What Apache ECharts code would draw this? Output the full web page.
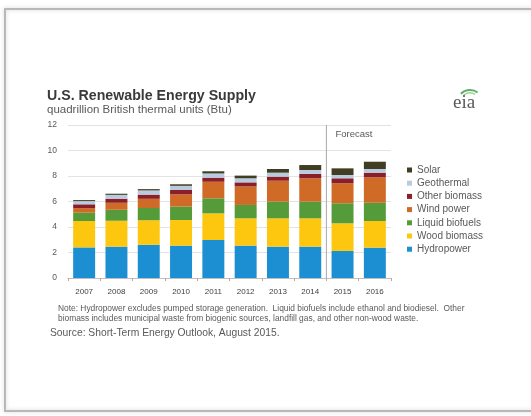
<!DOCTYPE html>
<html>
<head>
<meta charset="utf-8">
<script src="https://cdn.jsdelivr.net/npm/echarts@6/dist/echarts.min.js"></script>
<style>
html,body{margin:0;padding:0;background:#fff;}
#c{width:531px;height:416px;}
</style>
</head>
<body>
<div id="c"></div>
<script>
const years = ['2007','2008','2009','2010','2011','2012','2013','2014','2015','2016'];
const hydropower     = [2.40, 2.46, 2.61, 2.54, 2.98, 2.54, 2.46, 2.46, 2.12, 2.38];
const woodBiomass    = [2.07, 2.03, 1.92, 2.01, 2.09, 2.14, 2.22, 2.22, 2.17, 2.09];
const liquidBiofuels = [0.65, 0.86, 0.96, 1.05, 1.18, 1.05, 1.31, 1.31, 1.57, 1.43];
const windPower      = [0.36, 0.55, 0.72, 0.96, 1.30, 1.45, 1.64, 1.83, 1.57, 2.00];
const otherBiomass   = [0.30, 0.32, 0.33, 0.34, 0.32, 0.32, 0.32, 0.34, 0.39, 0.36];
const geothermal     = [0.25, 0.30, 0.33, 0.33, 0.33, 0.32, 0.31, 0.31, 0.26, 0.29];
const solar          = [0.08, 0.09, 0.10, 0.12, 0.17, 0.21, 0.29, 0.39, 0.52, 0.57];
const yTicks = { min: 0, max: 12, interval: 2 };
const legendOrder = ['Solar','Geothermal','Other biomass','Wind power','Liquid biofuels','Wood biomass','Hydropower'];

const FONT = '"Liberation Sans", Arial, sans-serif';
const chart = echarts.init(document.getElementById('c'), null, {renderer:'canvas'});

function bar(name, data, color){
  return { name, type:'bar', stack:'total', data, barCategoryGap:'32%',
    itemStyle:{ color }, emphasis:{disabled:true} };
}

chart.setOption({
  animation:false,
  backgroundColor:'#fff',
  textStyle:{ fontFamily: FONT },
  title:{
    text:'U.S. Renewable Energy Supply',
    subtext:'quadrillion British thermal units (Btu)',
    left:42, top:84, itemGap:1,
    textStyle:{ fontSize:14.2, fontWeight:'bold', color:'#3a3a3a', fontFamily:FONT },
    subtextStyle:{ fontSize:11.5, color:'#595959', fontFamily:FONT }
  },
  legend:{
    orient:'vertical', left:402, top:160,
    itemWidth:5, itemHeight:5, itemGap:3.2,
    icon:'rect',
    data: legendOrder,
    textStyle:{ fontSize:10, color:'#595959', lineHeight:10, fontFamily:FONT },
    selectedMode:false
  },
  grid:{ left:68, right:140, top:125, bottom:138 },
  xAxis:{
    type:'category', data:years,
    axisLine:{ lineStyle:{ color:'#bfbfbf' } },
    axisTick:{ show:true, length:3, lineStyle:{ color:'#c9a0a0' } },
    axisLabel:{ fontSize:8, color:'#404040', margin:10 }
  },
  yAxis:{
    type:'value', min:yTicks.min, max:yTicks.max, interval:yTicks.interval,
    axisLine:{ show:false }, axisTick:{ show:false },
    axisLabel:{ fontSize:8.5, color:'#595959', margin:11 },
    splitLine:{ lineStyle:{ color:'#e3e3e3' } }
  },
  series:[
    bar('Hydropower', hydropower, '#1B8FD2'),
    bar('Wood biomass', woodBiomass, '#FDC60F'),
    bar('Liquid biofuels', liquidBiofuels, '#559B3A'),
    bar('Wind power', windPower, '#CF6A27'),
    bar('Other biomass', otherBiomass, '#8A1F2A'),
    bar('Geothermal', geothermal, '#B9CCDF'),
    bar('Solar', solar, '#403D22')
  ]
});

// Forecast divider between 2014 and 2015, positioned through the axis scale
const p14 = chart.convertToPixel({gridIndex:0}, ['2014', 0]);
const p15 = chart.convertToPixel({gridIndex:0}, ['2015', 0]);
const pTop = chart.convertToPixel({gridIndex:0}, ['2015', yTicks.max]);
const xDiv = (p14[0] + p15[0]) / 2;

chart.setOption({
  graphic:[
    { type:'rect', shape:{ x:5, y:9, width:540, height:402 }, silent:true, z:-10,
      style:{ fill:'none', stroke:'#b8b8b8', lineWidth:2, shadowBlur:4, shadowColor:'rgba(0,0,0,0.18)' } },
    { type:'line', shape:{ x1:xDiv, y1:pTop[1], x2:xDiv, y2:p15[1] }, silent:true,
      style:{ stroke:'#a8a8a8', lineWidth:1 } },
    { type:'text', x:xDiv + 9, y:pTop[1] + 4, silent:true,
      style:{ text:'Forecast', fontSize:9.5, fill:'#595959', fontFamily:FONT } },
    { type:'text', x:58, y:304, silent:true,
      style:{ text:'Note: Hydropower excludes pumped storage generation.  Liquid biofuels include ethanol and biodiesel.  Other\nbiomass includes municipal waste from biogenic sources, landfill gas, and other non-wood waste.',
        fontSize:8.4, lineHeight:9.5, fill:'#595959', fontFamily:FONT } },
    { type:'text', x:50, y:328, silent:true,
      style:{ text:'Source: Short-Term Energy Outlook, August 2015.', fontSize:10.3, fill:'#595959', fontFamily:FONT } },
    { type:'arc', shape:{ cx:470, cy:103, r:13, startAngle:-Math.PI*0.75, endAngle:-Math.PI*0.30 }, silent:true,
      style:{ stroke:'#5fae6a', lineWidth:2, fill:'none' } },
    { type:'arc', shape:{ cx:470, cy:103, r:10, startAngle:-Math.PI*0.72, endAngle:-Math.PI*0.33 }, silent:true,
      style:{ stroke:'#9ccf8a', lineWidth:1.5, fill:'none' } },
    { type:'text', x:453, y:94, silent:true,
      style:{ text:'eia', fontSize:19, fill:'#5a5a5a', fontFamily:'"Liberation Serif", "DejaVu Serif", serif' } }
  ]
});
</script>
</body>
</html>
